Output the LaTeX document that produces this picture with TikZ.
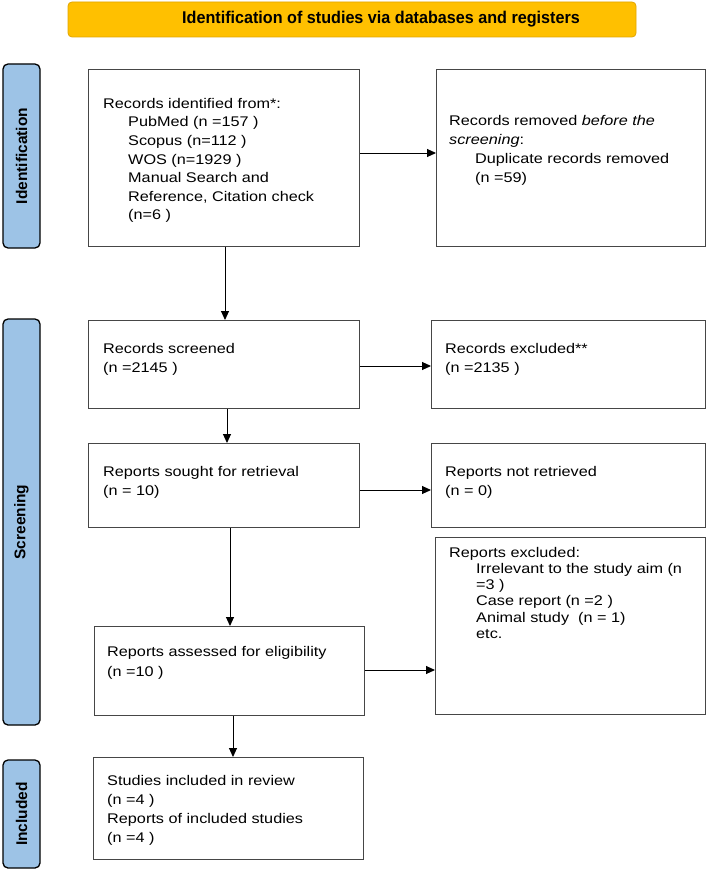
\documentclass[tikz,border=0pt]{standalone}
\usepackage{fontspec}
\usetikzlibrary{arrows.meta}
\newfontfamily\bodyfont[FakeStretch=1.16]{Liberation Sans}
\newfontfamily\headfont[FakeStretch=0.95]{Liberation Sans}
\newfontfamily\sidefont{Liberation Sans}
\definecolor{sideblue}{RGB}{157,195,230}
\definecolor{banneryellow}{RGB}{255,192,0}
\definecolor{bannerline}{RGB}{225,165,0}
\definecolor{boxline}{RGB}{70,70,70}
\begin{document}
\begin{tikzpicture}[x=1pt,y=-1pt,
  box/.style={draw=boxline, line width=1.2pt, fill=white, anchor=north west, inner sep=0pt},
  txt/.style={align=left, inner sep=0pt, anchor=north west},
  side/.style={draw=black, line width=1.3pt, fill=sideblue, rounded corners=5pt, rotate=90,
    minimum height=37pt, inner sep=0pt, font=\sidefont\bfseries\fontsize{15.5}{18}\selectfont},
  arr/.style={draw=black, line width=1pt, -{Triangle[length=9pt,width=8pt]}}
]
\useasboundingbox (0,0) rectangle (709,872);
\fill[white] (0,0) rectangle (709,872);

% banner
\node[draw=bannerline, line width=0.8pt, fill=banneryellow, rounded corners=4pt,
  minimum width=568pt, minimum height=35pt, inner sep=0pt,
  font=\headfont\bfseries\fontsize{17}{20}\selectfont] (banner) at (352,19.5)
  {\hspace*{58pt}Identification of studies via databases and registers};

% side labels
\node[side, minimum width=184pt] (sid) at (21.5,156) {Identification};
\node[side, minimum width=406pt] (sscr) at (21.5,522) {Screening};
\node[side, minimum width=108pt] (sinc) at (21.5,814) {Included};

% boxes
\node[box, minimum width=271pt, minimum height=177pt] (b1) at (88,69) {};
\node[box, minimum width=269pt, minimum height=177pt] (b2) at (436,69) {};
\node[box, minimum width=271pt, minimum height=88pt] (s1) at (88,320) {};
\node[box, minimum width=274pt, minimum height=88pt] (s2) at (431,320) {};
\node[box, minimum width=271pt, minimum height=84pt] (r1) at (88,443) {};
\node[box, minimum width=274pt, minimum height=84pt] (r2) at (431,443) {};
\node[box, minimum width=270pt, minimum height=177pt] (a2) at (435,537) {};
\node[box, minimum width=270pt, minimum height=89pt] (a1) at (94,626) {};
\node[box, minimum width=270pt, minimum height=102pt] (i1) at (93,757) {};

% texts
\node[txt, font=\bodyfont\fontsize{14}{18.6}\selectfont] (t1) at (103,98) {Records identified from*:\\
\hspace*{25pt}PubMed (n =157 )\\
\hspace*{25pt}Scopus (n=112 )\\
\hspace*{25pt}WOS (n=1929 )\\
\hspace*{25pt}Manual Search and\\
\hspace*{25pt}Reference, Citation check\\
\hspace*{25pt}(n=6 )};
\node[txt, font=\bodyfont\fontsize{14}{19}\selectfont] (t2) at (449,115) {Records removed \textit{before the}\\
\textit{screening}:\\
\hspace*{26pt}Duplicate records removed\\
\hspace*{26pt}(n =59)};
\node[txt, font=\bodyfont\fontsize{14}{19}\selectfont] (ts1) at (103,343) {Records screened\\(n =2145 )};
\node[txt, font=\bodyfont\fontsize{14}{19}\selectfont] (ts2) at (445,343) {Records excluded**\\(n =2135 )};
\node[txt, font=\bodyfont\fontsize{14}{19}\selectfont] (tr1) at (103,466) {Reports sought for retrieval\\(n = 10)};
\node[txt, font=\bodyfont\fontsize{14}{19}\selectfont] (tr2) at (445,466) {Reports not retrieved\\(n = 0)};
\node[txt, font=\bodyfont\fontsize{14}{16.2}\selectfont] (ta2) at (449,547) {Reports excluded:\\
\hspace*{27pt}Irrelevant to the study aim (n\\
\hspace*{27pt}=3 )\\
\hspace*{27pt}Case report (n =2 )\\
\hspace*{27pt}Animal study\ \ (n = 1)\\
\hspace*{27pt}etc.};
\node[txt, font=\bodyfont\fontsize{14}{20}\selectfont] (ta1) at (107,646) {Reports assessed for eligibility\\(n =10 )};
\node[txt, font=\bodyfont\fontsize{14}{19}\selectfont] (ti1) at (107,775) {Studies included in review\\(n =4 )\\Reports of included studies\\(n =4 )};

% connector helper coordinates
\coordinate (ya) at (0,153);
\coordinate (yb) at (0,366);
\coordinate (yc) at (0,490);
\coordinate (yd) at (0,670);
\coordinate (xa) at (225,0);
\coordinate (xb) at (227,0);
\coordinate (xc) at (230,0);
\coordinate (xd) at (233,0);

\draw[arr] (b1.east |- ya) -- (b2.west |- ya);
\draw[arr] (s1.east |- yb) -- (s2.west |- yb);
\draw[arr] (r1.east |- yc) -- (r2.west |- yc);
\draw[arr] (a1.east |- yd) -- (a2.west |- yd);
\draw[arr] (b1.south -| xa) -- (s1.north -| xa);
\draw[arr] (s1.south -| xb) -- (r1.north -| xb);
\draw[arr] (r1.south -| xc) -- (a1.north -| xc);
\draw[arr] (a1.south -| xd) -- (i1.north -| xd);
\end{tikzpicture}
\end{document}
